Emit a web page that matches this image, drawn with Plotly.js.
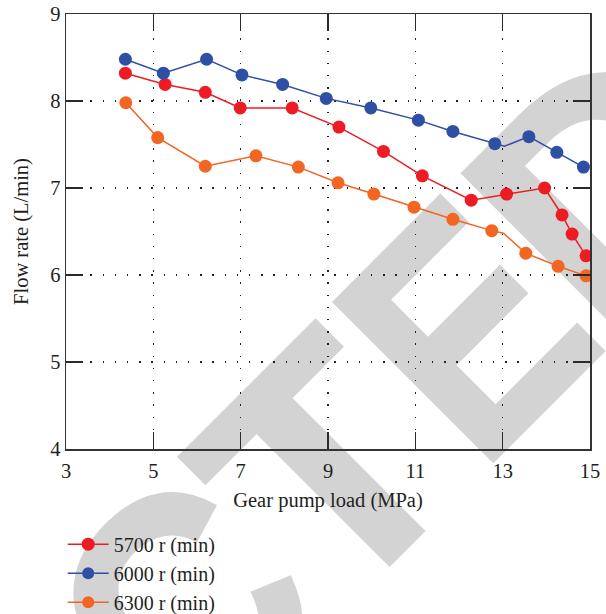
<!DOCTYPE html>
<html>
<head>
<meta charset="utf-8">
<script src="https://cdn.plot.ly/plotly-3.0.1.min.js"></script>
<style>
  html, body { margin: 0; padding: 0; background: #ffffff; }
  #wrap { position: relative; width: 606px; height: 614px; overflow: hidden; }
  #wm { position: absolute; left: 0; top: 0; z-index: 0; }
  #chart { position: absolute; left: 0; top: 0; width: 606px; height: 614px; z-index: 1; }
</style>
</head>
<body>
<div id="wrap">
  <svg id="wm" width="606" height="614" xmlns="http://www.w3.org/2000/svg">
    <g transform="translate(476.9,476.9) rotate(-45)" font-family="Liberation Sans, Arial, sans-serif" font-weight="700" font-size="326" fill="#d3d3d3" stroke="#d3d3d3" stroke-width="4" stroke-linejoin="miter">
      <text x="-1549.8 -1314.4 -1097 -897.8 -662.4" y="0">RETRA</text>
      <text transform="scale(0.9,1)" x="-452.6" y="0">C</text>
      <text x="-199.6" y="0">T</text>
      <text transform="scale(0.85,1)" x="5.2" y="0">E</text>
      <text x="183.2" y="0">D</text>
    </g>
  </svg>
  <div id="chart"></div>
</div>
<script>
// ---- data ----
const seriesNames = ['5700 r (min)', '6000 r (min)', '6300 r (min)'];

const load5700 = [4.36, 5.27, 6.19, 6.99, 8.18, 9.25, 10.27, 11.16, 12.28, 13.09, 13.96, 14.36, 14.59, 14.91];
const flow5700 = [8.32, 8.19, 8.10, 7.92, 7.92, 7.70, 7.42, 7.14, 6.86, 6.93, 7.00, 6.69, 6.47, 6.22];

const load6000 = [4.36, 5.23, 6.22, 7.03, 7.96, 8.96, 9.98, 11.07, 11.86, 12.82, 13.04, 13.60, 14.24, 14.85];
const flow6000 = [8.48, 8.32, 8.48, 8.30, 8.19, 8.03, 7.92, 7.78, 7.65, 7.51, 7.48, 7.59, 7.41, 7.24];

const load6300 = [4.37, 5.10, 6.19, 7.35, 8.32, 9.23, 10.05, 10.97, 11.86, 12.75, 13.02, 13.53, 14.27, 14.91];
const flow6300 = [7.98, 7.58, 7.25, 7.37, 7.24, 7.06, 6.93, 6.78, 6.64, 6.51, 6.48, 6.25, 6.10, 5.99];

// points on the line that carry no marker in the reference
const unmarked6000 = [10];
const unmarked6300 = [10];

const xTicks = [3, 5, 7, 9, 11, 13, 15];
const yTicks = [4, 5, 6, 7, 8, 9];

// ---- styling ----
const colors = ['#ed1c24', '#2e4fa3', '#f26522'];
const MS = 13;
function sizes(n, hidden) {
  const s = [];
  for (let i = 0; i < n; i++) s.push(hidden.indexOf(i) >= 0 ? 0 : MS);
  return s;
}
function mk(color, size) {
  return { color: color, size: size, opacity: 1, line: { width: 0, color: color } };
}
const txtColor = '#231f20';
const serif = 'Liberation Serif, Times New Roman, serif';
const FS = 20.5;

const traces = [
  { x: load5700, y: flow5700, name: seriesNames[0], mode: 'lines+markers', type: 'scatter',
    line: { color: colors[0], width: 1.5 }, marker: mk(colors[0], MS) },
  { x: load6000, y: flow6000, name: seriesNames[1], mode: 'lines+markers', type: 'scatter',
    line: { color: colors[1], width: 1.5 }, marker: mk(colors[1], sizes(load6000.length, unmarked6000)) },
  { x: load6300, y: flow6300, name: seriesNames[2], mode: 'lines+markers', type: 'scatter',
    line: { color: colors[2], width: 1.5 }, marker: mk(colors[2], sizes(load6300.length, unmarked6300)) }
];

const axisCommon = {
  ticks: 'inside', ticklen: 17, tickwidth: 1.4, tickcolor: '#2a2a2a',
  showline: true, linecolor: '#333333', linewidth: 1.5, mirror: 'ticks',
  showgrid: true, gridcolor: '#222222', gridwidth: 1.3, griddash: '1.3px,10.9px',
  zeroline: false, tickfont: { family: serif, size: FS, color: txtColor }
};

const layout = {
  width: 606, height: 614,
  margin: { l: 66, r: 16, t: 14, b: 165, autoexpand: false },
  paper_bgcolor: 'rgba(0,0,0,0)', plot_bgcolor: 'rgba(0,0,0,0)',
  showlegend: true,
  legend: { x: -0.0063, xanchor: 'left', y: -0.174, yanchor: 'top',
            font: { family: serif, size: 20, color: txtColor },
            bgcolor: 'rgba(0,0,0,0)', tracegroupgap: 0, itemwidth: 41 },
  xaxis: Object.assign({}, axisCommon, {
    range: [3, 15], tickvals: xTicks, ticktext: xTicks.map(String), ticklabelstandoff: 3,
    title: { text: 'Gear pump load (MPa)', font: { family: serif, size: FS, color: txtColor }, standoff: 11 }
  }),
  yaxis: Object.assign({}, axisCommon, {
    range: [4, 9], tickvals: yTicks, ticktext: yTicks.map(String),
    title: { text: 'Flow rate (L/min)', font: { family: serif, size: FS, color: txtColor }, standoff: 16 }
  })
};

Plotly.newPlot('chart', traces, layout, { displayModeBar: false, staticPlot: true });
</script>
</body>
</html>
